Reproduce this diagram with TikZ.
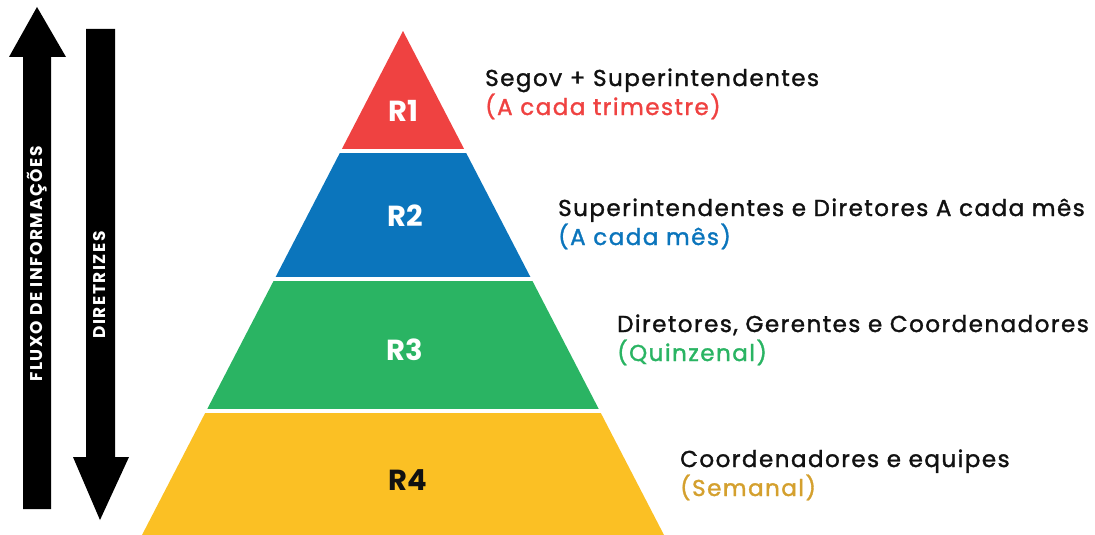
\documentclass[tikz,border=0pt]{standalone}
\usepackage{fontspec}
\setmainfont{Poppins}
\newfontfamily\descfont{Poppins}[LetterSpace=6.5,FakeBold=1.5]
\newfontfamily\flowfont{Poppins}[LetterSpace=9]
\usepackage{xcolor}
\usetikzlibrary{positioning}
\definecolor{rred}{HTML}{EF4241}
\definecolor{rblue}{HTML}{0B75BC}
\definecolor{rgreen}{HTML}{2AB463}
\definecolor{ryellow}{HTML}{FBC024}
\definecolor{rgold}{HTML}{D4A02E}
\definecolor{rink}{HTML}{111111}
\tikzset{
    level/.style={
        font=\fontsize{29}{32}\selectfont\bfseries,
        inner sep=0pt
    },
    title/.style={
        font=\descfont\fontsize{23}{26}\selectfont,
        text=rink,
        anchor=base west,
        inner sep=0pt
    },
    flow/.style={
        font=\flowfont\fontsize{17}{20}\selectfont\bfseries,
        text=white,
        rotate=90,
        inner sep=0pt
    }
}
\begin{document}
\begin{tikzpicture}[x=1pt,y=-1pt]
        \useasboundingbox (0,0) rectangle (1095,535);
        % draw pyramid bands
        \begin{scope}
            \clip (403,31) -- (142,535) -- (664,535) -- cycle;
            \foreach \top/\bot/\col in {31/149/rred,153/277/rblue,
                281/409/rgreen,413/536/ryellow}
                \fill[\col] (100,\top) rectangle (700,\bot);
        \end{scope}
        % draw level names
        \node[level,text=white] (r1) at (403,111) {R1};
        \node[level,text=white] (r2) at (405,216) {R2};
        \node[level,text=white] (r3) at (405,350) {R3};
        \node[level,text=rink] (r4) at (408,480) {R4};
        % draw descriptions
        \foreach \n/\x/\y/\txt/\when/\col in {
            1/485/86/{Segov + Superintendentes}/{(A cada trimestre)}/rred,
            2/558/216/{Superintendentes e Diretores A cada mês}/{(A cada mês)}/rblue,
            3/617/332/{Diretores, Gerentes e Coordenadores}/{(Quinzenal)}/rgreen,
            4/680/467/{Coordenadores e equipes}/{(Semanal)}/rgold} {
            \node[title] (s\n) at (\x,\y) {\txt};
            \node[title,text=\col] (p\n) at ([yshift=-29pt]s\n.base west) {\when};
        }
        % draw up arrow
        \fill[black] (23,509) -- (23,57) -- (9,57) -- (37,7) -- (66,57)
            -- (51,57) -- (51,509) -- cycle;
        \node[flow] (flux) at (37,264) {FLUXO DE INFORMAÇÕES};
        % draw down arrow
        \fill[black] (86,29) -- (86,457) -- (73,457) -- (100,520) -- (129,457)
            -- (115,457) -- (115,29) -- cycle;
        \node[flow] (dir) at (100,285) {DIRETRIZES};
\end{tikzpicture}
\end{document}
